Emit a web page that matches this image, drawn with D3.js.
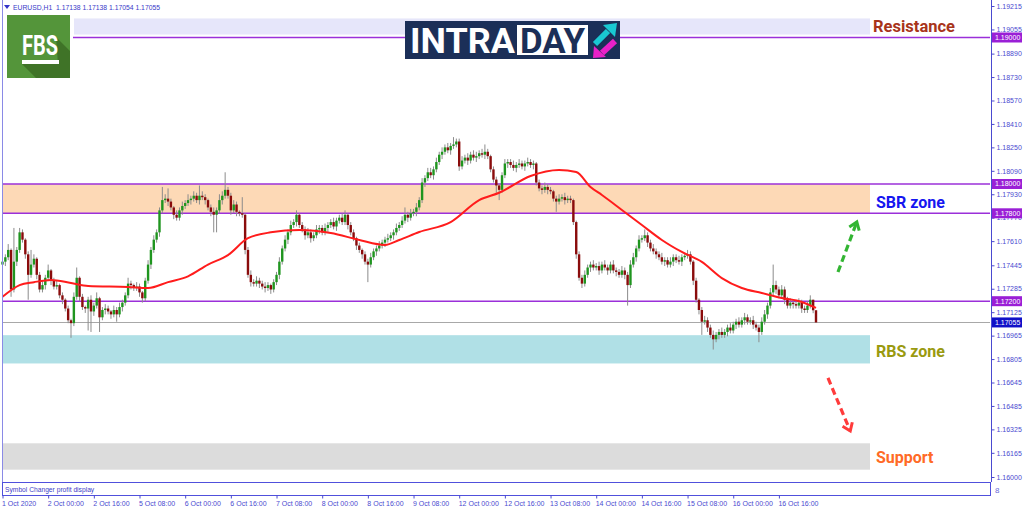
<!DOCTYPE html>
<html>
<head>
<meta charset="utf-8">
<script src="https://cdn.jsdelivr.net/npm/d3@7/dist/d3.min.js"></script>
<style>
  body { margin: 0; background: #fff; }
  svg text { font-family: "Liberation Sans", Arial, sans-serif; }
</style>
</head>
<body>
<div id="chart"></div>
<script>
// prices are kept in pips above BASE (1 pip = 0.0001)
var BASE = 1.16, PIP = 0.0001;

var firstOpen = 145;
var closes = [
  147,150,155,128,147,155,167,162,152,138,
  145,149,138,128,131,136,141,134,130,131,
  124,121,115,107,105,123,136,123,116,115,
  121,113,117,122,109,114,115,113,111,114,
  111,116,119,124,132,131,129,130,126,122,
  134,145,155,162,167,182,189,190,188,184,
  179,177,182,185,187,189,190,192,189,192,
  191,189,184,181,179,182,189,192,196,192,
  182,186,181,180,179,155,138,133,132,134,
  132,130,129,131,128,133,138,147,156,162,
  167,172,174,179,172,169,165,167,163,165,
  169,170,167,170,172,174,171,175,177,174,
  179,172,167,163,158,155,152,147,145,150,
  154,156,158,160,162,163,165,167,170,172,
  175,179,177,180,181,184,189,201,204,208,
  206,210,215,220,222,225,223,226,227,229,
  212,216,218,216,220,218,219,221,220,222,
  219,210,203,199,196,206,214,215,213,211,
  213,214,212,214,215,213,214,201,197,196,
  198,196,195,190,188,190,191,189,190,189,
  174,152,136,132,138,143,145,143,144,141,
  145,143,141,145,141,140,138,141,138,131,
  145,150,156,162,163,165,160,156,154,152,
  150,147,148,145,147,150,148,147,150,151,
  152,147,134,121,114,106,107,102,97,94,
  97,99,97,99,102,100,104,106,104,107,
  109,106,107,104,102,99,106,111,117,126,
  131,128,124,128,121,117,119,118,117,119,
  115,114,117,121,113.8,105.5
];
var upperWick = [
  3,2,4,1,23,2,3,2,1,2, 10,3,1,2,3,2,4,1,2,3, 1,2,1,2,1,3,7,1,2,1,
  2,3,2,4,1,2,3,2,1,3, 2,3,2,2,4,2,1,3,2,1, 2,3,2,3,2,2,9,3,7,2,
  1,3,2,3,2,4,2,3,2,7, 3,2,1,2,3,2,4,3,12,2, 2,3,2,1,11,1,2,3,2,3,
  2,2,3,2,1,2,2,3,2,3, 2,3,2,3,1,2,2,3,2,2, 3,2,2,3,2,2,3,2,2,3,
  3,1,2,2,1,2,1,2,2,3, 2,2,3,2,2,3,2,2,3,2, 3,5,2,3,2,3,2,3,2,3,
  3,2,3,2,3,2,3,2,5,2, 2,3,2,3,2,3,3,2,3,5, 2,1,2,2,1,2,3,2,2,3,
  2,3,2,2,3,2,2,1,2,2, 3,2,2,1,2,3,2,3,2,2, 1,1,2,2,3,2,2,3,2,3,
  2,3,2,2,3,2,2,3,2,2, 3,3,2,3,2,4,2,2,3,2, 2,3,2,2,3,2,2,3,2,2,
  3,2,1,2,1,2,3,2,2,3, 2,2,3,2,2,3,2,2,3,2, 3,2,2,3,2,2,3,3,2,3,
  14,3,2,3,2,2,3,2,2,3, 2,2,3,3,0,0
];
var lowerWick = [
  2,3,2,5,2,3,2,2,3,17, 2,2,3,2,2,3,2,3,2,2, 2,3,2,2,10,2,2,3,2,3,
  15,14,3,2,10,2,3,2,3,2, 5,2,3,2,2,3,2,2,3,3, 2,2,3,2,2,3,2,2,3,2,
  3,2,2,3,2,2,3,2,2,3, 2,3,2,3,12,12,2,3,2,2, 3,2,3,2,2,3,2,3,2,2,
  3,2,3,2,3,2,2,3,2,2, 3,2,2,3,2,2,3,2,3,2, 2,3,2,2,3,2,2,3,2,2,
  2,3,2,2,3,2,3,2,12,2, 2,3,2,2,3,2,2,3,2,2, 2,2,3,2,2,3,2,2,3,2,
  2,3,2,2,3,2,2,3,2,2, 3,2,2,3,2,2,3,2,2,3, 2,2,2,5,7,2,2,3,2,2,
  3,2,2,3,2,2,3,2,2,3, 2,3,2,2,7,2,2,3,2,2, 2,3,2,3,2,2,3,2,2,3,
  2,2,3,2,2,3,2,2,3,14, 2,2,3,2,2,2,3,2,2,3, 2,2,3,2,2,3,2,2,3,2,
  2,2,3,2,3,9,2,3,2,7, 2,3,2,2,3,2,2,3,2,2, 3,2,2,3,2,7,2,2,3,2,
  2,3,2,2,3,2,2,3,2,2, 3,2,2,2,2,0
];

// moving average
var maBars   = [0,6,11,17,24,30,44,51,58,65,72,79,86,94,104,115,125,134,139,146,157,167,174,185,195,201,206,210,217,224,231,238,245,252,259,266,273,280,285];
var maValues = [123,131,133,134.5,132.4,130.4,129.7,129,133,137,145,151.5,163,167,168.6,166.6,161.8,158.4,161.8,167.2,174,189,194,205.5,209.6,208.2,198,192.5,182.3,172,161.8,153.6,146.8,135.8,129,125.6,122.2,119.5,115.4];

var priceTicks = [1.19215,1.19055,1.18890,1.18730,1.18570,1.18410,1.18250,1.18090,1.17930,1.17770,1.17610,1.17445,1.17285,1.17125,1.16965,1.16805,1.16645,1.16485,1.16325,1.16165,1.16000];
var levelPrices = [1.19000, 1.18000, 1.17800, 1.17200];
var bidPrice = 1.17055;
var headerText = "EURUSD,H1  1.17138 1.17138 1.17054 1.17055";

var timeTickBars = [0,16,32,48,64,80,96,112,128,144,160,176,192,208,224,240,256,272];
var timeTickLabels = ["1 Oct 2020","2 Oct 00:00","2 Oct 16:00","5 Oct 08:00","6 Oct 00:00","6 Oct 16:00","7 Oct 08:00","8 Oct 00:00","8 Oct 16:00","9 Oct 08:00","12 Oct 00:00","12 Oct 16:00","13 Oct 08:00","14 Oct 00:00","14 Oct 16:00","15 Oct 08:00","16 Oct 00:00","16 Oct 16:00"];

var zoneNames   = ["Resistance", "SBR zone", "RBS zone", "Support"];
var zoneTops    = [1.19130, 1.18000, 1.16968, 1.16230];
var zoneBottoms = [1.19020, 1.17800, 1.16775, 1.16050];

// projected move arrows: [bar, price] start and end
var arrowUp   = [[292.7, 1.17399], [299.3, 1.17741]];
var arrowDown = [[289.2, 1.16676], [297.0, 1.16314]];

var zoneFill  = ["#e6e6fa", "#fdd9b6", "#b0e0e6", "#dcdcdc"];
var zoneText  = ["#a8341a", "#1616f0", "#9a9a10", "#ff6a26"];
var axisColor = "#4a4ad0";
var levelColor = "#9b30d9";

var width = 1024, height = 511;
var plotLeft = 2, plotRight = 990, zoneRight = 870;

var svg = d3.select("#chart").append("svg")
    .attr("width", width)
    .attr("height", height);

svg.append("rect").attr("width", width).attr("height", height).attr("fill", "#fff");

var x = d3.scaleLinear().domain([0, closes.length - 1]).range([2.5, 816]);
var y = d3.scaleLinear().domain([1.16, 1.19215]).range([477, 6]);

function price(p) { return BASE + p * PIP; }

// zones
zoneNames.forEach(function(name, i) {
    var left = i === 0 ? 74 : plotLeft;
    svg.append("rect")
        .attr("x", left)
        .attr("y", y(zoneTops[i]))
        .attr("width", zoneRight - left)
        .attr("height", y(zoneBottoms[i]) - y(zoneTops[i]))
        .attr("fill", zoneFill[i]);
});

// bid line
svg.append("line")
    .attr("x1", plotLeft).attr("x2", plotRight)
    .attr("y1", Math.round(y(bidPrice)) + 0.5).attr("y2", Math.round(y(bidPrice)) + 0.5)
    .attr("stroke", "#a8a8a8").attr("stroke-width", 1);

// level lines
svg.selectAll(".level").data(levelPrices).enter().append("line")
    .attr("class", "level")
    .attr("x1", plotLeft).attr("x2", plotRight)
    .attr("y1", function(d) { return y(d); })
    .attr("y2", function(d) { return y(d); })
    .attr("stroke", levelColor).attr("stroke-width", 1.6);

// candles
var candles = closes.map(function(c, i) {
    var o = i === 0 ? firstOpen : closes[i - 1];
    return {
        i: i,
        open: price(o),
        close: price(c),
        high: price(Math.max(o, c) + upperWick[i]),
        low: price(Math.min(o, c) - lowerWick[i])
    };
});

var gCandles = svg.append("g");
gCandles.selectAll(".wick").data(candles).enter().append("line")
    .attr("class", "wick")
    .attr("x1", function(d) { return x(d.i); })
    .attr("x2", function(d) { return x(d.i); })
    .attr("y1", function(d) { return y(d.high); })
    .attr("y2", function(d) { return y(d.low); })
    .attr("stroke", "#8c8c8c").attr("stroke-width", 1);

gCandles.selectAll(".body").data(candles).enter().append("rect")
    .attr("class", "body")
    .attr("x", function(d) { return x(d.i) - 1.2; })
    .attr("width", 2.4)
    .attr("y", function(d) { return y(Math.max(d.open, d.close)); })
    .attr("height", function(d) { return Math.max(1, Math.abs(y(d.open) - y(d.close))); })
    .attr("fill", function(d) { return d.close >= d.open ? "#1f951f" : "#8a0c0c"; });

// moving average
var maLine = d3.line()
    .x(function(d) { return x(d[0]); })
    .y(function(d) { return y(price(d[1])); })
    .curve(d3.curveMonotoneX);

svg.append("path")
    .attr("d", maLine(maBars.map(function(b, i) { return [b, maValues[i]]; })))
    .attr("fill", "none")
    .attr("stroke", "#ff1c1c")
    .attr("stroke-width", 2);

// dashed arrows
function drawArrow(pts, color) {
    var x1 = x(pts[0][0]), y1 = y(pts[0][1]), x2 = x(pts[1][0]), y2 = y(pts[1][1]);
    svg.append("line")
        .attr("x1", x1).attr("y1", y1).attr("x2", x2).attr("y2", y2)
        .attr("stroke", color).attr("stroke-width", 3.2)
        .attr("stroke-dasharray", "7,4");
    var ang = Math.atan2(y2 - y1, x2 - x1), len = 9;
    var a1 = ang + Math.PI * 0.8, a2 = ang - Math.PI * 0.8;
    svg.append("path")
        .attr("d", "M" + (x2 + len * Math.cos(a1)) + "," + (y2 + len * Math.sin(a1)) +
                   "L" + x2 + "," + y2 +
                   "L" + (x2 + len * Math.cos(a2)) + "," + (y2 + len * Math.sin(a2)))
        .attr("fill", "none").attr("stroke", color).attr("stroke-width", 3);
}
drawArrow(arrowUp, "#33b533");
drawArrow(arrowDown, "#ff3b3b");

// zone labels
var labelDy = [0, 4, 2, 1];
zoneNames.forEach(function(name, i) {
    svg.append("text")
        .attr("x", i === 0 ? 873 : 876)
        .attr("y", (y(zoneTops[i]) + y(zoneBottoms[i])) / 2 + labelDy[i])
        .attr("dy", "0.36em")
        .attr("fill", zoneText[i])
        .style("font-family", "Roboto, sans-serif")
        .style("font-weight", "bold")
        .style("font-size", i === 0 ? "16.5px" : "16px")
        .text(name);
});

// FBS logo (white patch behind it)
svg.append("rect").attr("x", 3).attr("y", 11).attr("width", 70).attr("height", 74).attr("fill", "#fff");
var fbs = svg.append("g");
fbs.append("rect").attr("x", 7).attr("y", 15).attr("width", 63).attr("height", 63).attr("fill", "#54953a");
fbs.append("path")
    .attr("d", "M56,37 L70,51 L70,78 L36,78 L22,64 L58,64 Z")
    .attr("fill", "#3f7327");
fbs.append("text")
    .attr("x", 22).attr("y", 55)
    .attr("fill", "#fff")
    .attr("textLength", 36)
    .attr("lengthAdjust", "spacingAndGlyphs")
    .style("font-family", "Roboto, sans-serif")
    .style("font-weight", "bold")
    .style("font-size", "28px")
    .text("FBS");
fbs.append("rect").attr("x", 22).attr("y", 60).attr("width", 37).attr("height", 4).attr("fill", "#fff");

// INTRADAY logo
var logo = svg.append("g");
logo.append("rect").attr("x", 405).attr("y", 21).attr("width", 215).attr("height", 38).attr("fill", "#1b2f58");
logo.append("text")
    .attr("x", 410).attr("y", 53)
    .attr("fill", "#fff")
    .attr("textLength", 105)
    .attr("lengthAdjust", "spacingAndGlyphs")
    .style("font-family", "Roboto, sans-serif")
    .style("font-weight", "bold")
    .style("font-size", "35px")
    .text("INTRA");
logo.append("rect").attr("x", 517).attr("y", 25).attr("width", 71).attr("height", 30).attr("fill", "#fff");
logo.append("text")
    .attr("x", 520).attr("y", 53)
    .attr("fill", "#1b2f58")
    .attr("textLength", 65)
    .attr("lengthAdjust", "spacingAndGlyphs")
    .style("font-family", "Roboto, sans-serif")
    .style("font-weight", "bold")
    .style("font-size", "35px")
    .text("DAY");
logo.append("line").attr("x1", 595).attr("y1", 44).attr("x2", 608).attr("y2", 31)
    .attr("stroke", "#19c8d2").attr("stroke-width", 6);
logo.append("path").attr("d", "M603,25 L617,23 L615,37 Z").attr("fill", "#19c8d2");
logo.append("line").attr("x1", 615).attr("y1", 41).attr("x2", 602).attr("y2", 53)
    .attr("stroke", "#e821c8").attr("stroke-width", 6);
logo.append("path").attr("d", "M594,46 L593,58 L606,57 Z").attr("fill", "#e821c8");

// header
svg.append("path").attr("d", "M4,5 L10,5 L7,9 Z").attr("fill", "#3434c8");
svg.append("text")
    .attr("x", 13).attr("y", 10)
    .attr("fill", "#3838c8")
    .style("font-size", "6.8px")
    .style("white-space", "pre")
    .attr("xml:space", "preserve")
    .text(headerText);

// frame
svg.append("line").attr("x1", 2.5).attr("x2", 2.5).attr("y1", 0).attr("y2", 495)
    .attr("stroke", "#8a8ae6").attr("stroke-width", 1);
svg.append("line").attr("x1", 991.5).attr("x2", 991.5).attr("y1", 0).attr("y2", 482)
    .attr("stroke", axisColor).attr("stroke-width", 1);

// right price axis
var yAxis = d3.axisRight(y)
    .tickValues(priceTicks)
    .tickFormat(d3.format(".5f"))
    .tickSize(3)
    .tickSizeOuter(0)
    .tickPadding(2);

var gy = svg.append("g")
    .attr("transform", "translate(991.5,0)")
    .call(yAxis);
gy.select(".domain").remove();
gy.selectAll("line").attr("stroke", axisColor);
gy.selectAll("text")
    .attr("fill", axisColor)
    .style("font-family", "\"Liberation Sans\", Arial, sans-serif")
    .style("font-size", "7px");

// price tags
var tags = levelPrices.map(function(p) { return { p: p, c: "#9a1fd6" }; })
    .concat([{ p: bidPrice, c: "#1010c8" }]);
tags.forEach(function(t) {
    svg.append("rect")
        .attr("x", 992).attr("y", y(t.p) - 5)
        .attr("width", 30).attr("height", 10)
        .attr("fill", t.c);
    svg.append("text")
        .attr("x", 995).attr("y", y(t.p))
        .attr("dy", "0.34em")
        .attr("fill", "#fff")
        .style("font-size", "7px")
        .text(d3.format(".5f")(t.p));
});

// bottom panel
svg.append("rect")
    .attr("x", 2.5).attr("y", 482.5)
    .attr("width", 988).attr("height", 13)
    .attr("fill", "#fff")
    .attr("stroke", "#5050dc").attr("stroke-width", 1);
svg.append("text")
    .attr("x", 5).attr("y", 491.5)
    .attr("fill", "#4040c8")
    .style("font-size", "6.7px")
    .text("Symbol Changer profit display");
svg.append("text")
    .attr("x", 995).attr("y", 493)
    .attr("fill", "#6a6ad8")
    .style("font-size", "8px")
    .text("8");

// time axis
var xAxis = d3.axisBottom(x)
    .tickValues(timeTickBars)
    .tickFormat(function(d, i) { return timeTickLabels[i]; })
    .tickSize(3)
    .tickSizeOuter(0)
    .tickPadding(3);

var gx = svg.append("g")
    .attr("transform", "translate(0,495.5)")
    .call(xAxis);
gx.select(".domain").remove();
gx.selectAll("line").attr("stroke", axisColor);
gx.selectAll("text")
    .attr("text-anchor", "start")
    .attr("x", -1)
    .attr("fill", axisColor)
    .style("font-family", "\"Liberation Sans\", Arial, sans-serif")
    .style("font-size", "7px");
</script>
</body>
</html>
